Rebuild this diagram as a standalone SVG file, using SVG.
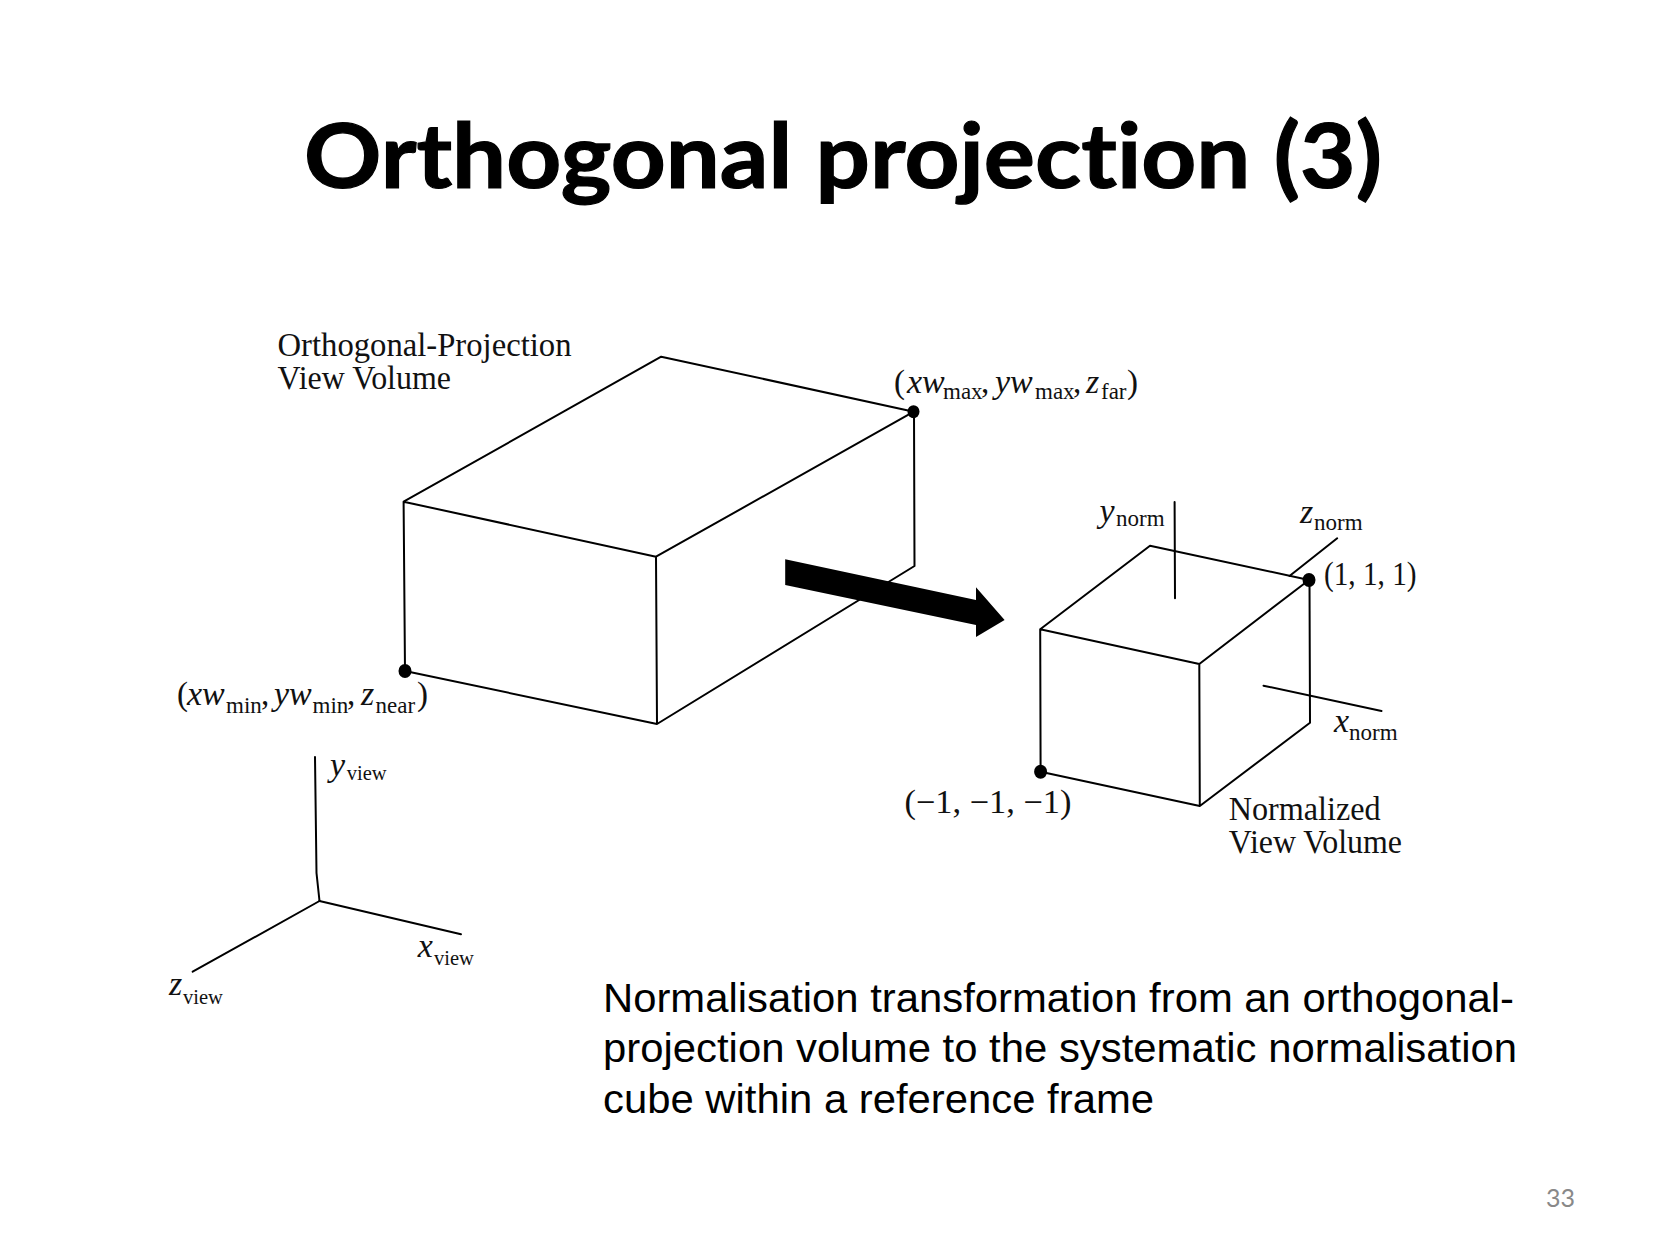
<svg xmlns="http://www.w3.org/2000/svg" width="1673" height="1256" viewBox="0 0 1673 1256">
<style>
.l{fill:none;stroke:#000;stroke-width:2;stroke-linejoin:round;stroke-linecap:round}
.t{font-family:"Liberation Serif",serif;font-size:33px;fill:#111}
.i{font-style:italic;font-size:34px}
.s{font-size:23px}
.v{font-size:20.5px}
.b{font-family:"Liberation Sans",Arial,sans-serif;font-size:40px;fill:#000}
</style>
<rect width="1673" height="1256" fill="#fff"/>
<text id="title" x="304" y="188" font-family="Lato,sans-serif" font-weight="700" font-size="90" textLength="1078" lengthAdjust="spacingAndGlyphs" fill="#000" stroke="#000" stroke-width="1.2" style="font-variant-ligatures:none">Orthogonal projection (3)</text>
<g id="connectors">
<path id="axis-y" class="l" d="M315 757L316.500 873L319.500 901"/>
<path id="axis-x" class="l" d="M319.500 901L461 934.3"/>
<path id="axis-z" class="l" d="M319.500 901L192.700 971.700"/>
<path id="norm-axis-y" class="l" d="M1174.600 502L1175 598.300"/>
<path id="norm-axis-z" class="l" d="M1289.500 576L1337.200 538.300"/>
<path id="norm-axis-x" class="l" d="M1263.500 685.700L1381.500 711"/>
</g>
<g id="view-volume">
<path class="l" d="M403.600 501.700L661.200 356.700L913.800 411.700L656 556.700ZM656 556.700L657 724L405 671L403.600 501.700M657 724L914.500 566L914 411.700"/>
<ellipse cx="405" cy="671" rx="6.500" ry="7"/>
<ellipse cx="913.500" cy="411.700" rx="6" ry="6.500"/>
<text class="t" x="277.500" y="355.500" textLength="294" lengthAdjust="spacingAndGlyphs">Orthogonal-Projection</text>
<text class="t" x="277.500" y="389" textLength="173.500" lengthAdjust="spacingAndGlyphs">View Volume</text>
<text class="t"><tspan x="177" y="705">(</tspan><tspan class="i" x="187" y="705">xw</tspan><tspan class="s" x="226" y="713">min</tspan><tspan x="261" y="705">,</tspan><tspan class="i" x="274" y="705">yw</tspan><tspan class="s" x="312.500" y="713">min</tspan><tspan x="347" y="705">,</tspan><tspan class="i" x="361" y="705">z</tspan><tspan class="s" x="375.500" y="713">near</tspan><tspan x="417" y="705">)</tspan></text>
<text class="t"><tspan x="894" y="392.500">(</tspan><tspan class="i" x="907" y="392.500">xw</tspan><tspan class="s" x="943" y="399">max</tspan><tspan x="981" y="392.500">,</tspan><tspan class="i" x="995" y="392.500">yw</tspan><tspan class="s" x="1035" y="399">max</tspan><tspan x="1073" y="392.500">,</tspan><tspan class="i" x="1086" y="392.500">z</tspan><tspan class="s" x="1101" y="399">far</tspan><tspan x="1127" y="392.500">)</tspan></text>
</g>
<g id="arrow"><path d="M785.200 559.300L976 600L976 587.300L1004.600 620L976 637L976 625L785.200 585Z"/></g>
<g id="normalized-volume">
<path class="l" d="M1040.200 629.300L1150 545.700L1309 580L1199.300 664ZM1199.300 664L1199.800 806L1040.600 771.700L1040.200 629.300M1199.800 806L1310 722.700L1309.500 580"/>
<ellipse cx="1040.600" cy="771.700" rx="6.500" ry="7"/>
<ellipse cx="1309" cy="580" rx="6.500" ry="7"/>
<text class="t" x="1324" y="585" textLength="92.600" lengthAdjust="spacingAndGlyphs">(1, 1, 1)</text>
<text class="t" x="904.500" y="812.700" textLength="167" lengthAdjust="spacingAndGlyphs">(−1, −1, −1)</text>
<text class="t" x="1228.800" y="820" textLength="151.800" lengthAdjust="spacingAndGlyphs">Normalized</text>
<text class="t" x="1228.800" y="853" textLength="173.200" lengthAdjust="spacingAndGlyphs">View Volume</text>
<text class="t"><tspan class="i" x="1099.600" y="521.700">y</tspan><tspan class="s" x="1116" y="525.500">norm</tspan></text>
<text class="t"><tspan class="i" x="1300" y="523">z</tspan><tspan class="s" x="1314" y="529.500">norm</tspan></text>
<text class="t"><tspan class="i" x="1334" y="731.700">x</tspan><tspan class="s" x="1349" y="740">norm</tspan></text>
</g>
<g id="view-axes">
<text class="t"><tspan class="i" x="330" y="775.500">y</tspan><tspan class="v" x="346.700" y="779.500">view</tspan></text>
<text class="t"><tspan class="i" x="417.700" y="956.700">x</tspan><tspan class="v" x="434" y="965">view</tspan></text>
<text class="t"><tspan class="i" x="169" y="995">z</tspan><tspan class="v" x="183" y="1003.500">view</tspan></text>
</g>
<g id="caption">
<text class="b" x="603" y="1011.700" textLength="911" lengthAdjust="spacingAndGlyphs">Normalisation transformation from an orthogonal-</text>
<text class="b" x="603" y="1061.700" textLength="914" lengthAdjust="spacingAndGlyphs">projection volume to the systematic normalisation</text>
<text class="b" x="603" y="1112.700" textLength="551" lengthAdjust="spacingAndGlyphs">cube within a reference frame</text>
</g>
<text id="page" x="1546" y="1206.700" font-family="Lato,sans-serif" font-size="25" fill="#898989">33</text>
</svg>
